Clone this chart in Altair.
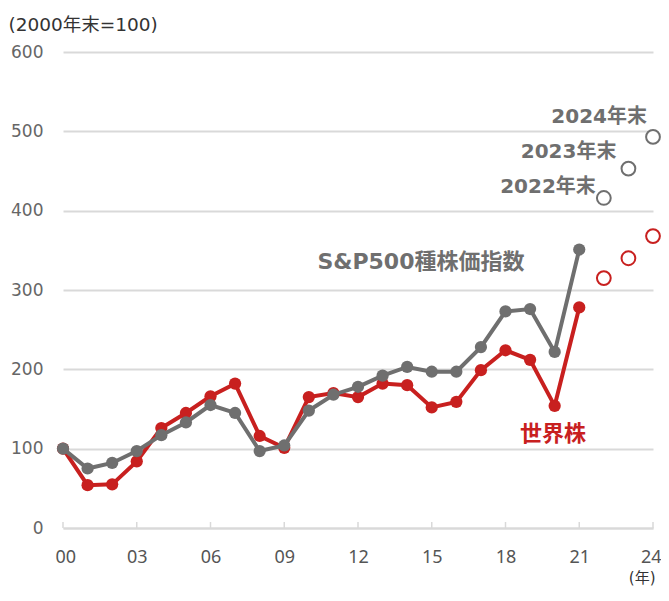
import altair as alt
import pandas as pd

# ---- data ----
years = list(range(2000, 2022))
world = [100, 54, 55, 84, 126, 145, 166, 182, 116, 101, 165, 170, 165, 182, 180,
         152, 159, 199, 224, 212, 154, 278]
sp500 = [100, 75, 82, 97, 117, 133, 155, 145, 97, 104, 148, 168, 178, 192, 203,
         197, 197, 228, 273, 276, 222, 351]
fc_years = [2022, 2023, 2024]
world_fc = [315, 340, 368]
sp500_fc = [416, 453, 493]
fc_labels = ["2022年末", "2023年末", "2024年末"]
x_ticks = list(range(2000, 2025, 3))
y_ticks = list(range(0, 700, 100))

RED = "#c8201f"
GRAY = "#6f6f6f"
GRID = "#d9d9d9"
CJK = "DejaVu Sans, Noto Sans CJK JP"

hist_world = pd.DataFrame({"year": years, "value": world})
hist_sp = pd.DataFrame({"year": years, "value": sp500})
fc_world = pd.DataFrame({"year": fc_years, "value": world_fc})
fc_sp = pd.DataFrame({"year": fc_years, "value": sp500_fc, "label": fc_labels})
ticks_df = pd.DataFrame({"year": x_ticks})

x_scale = alt.Scale(domain=[2000, 2024], nice=False, zero=False)
y_scale = alt.Scale(domain=[0, 600], nice=False)

x_axis = alt.Axis(
    values=x_ticks,
    labelExpr="substring(toString(datum.value), 2)",
    grid=False, ticks=False, labelFlush=True, labelFlushOffset=8, labelOverlap=False,
    domainColor=GRID, domainWidth=2,
    labelFont="Noto Sans", labelFontSize=18, labelColor="#555555", labelPadding=20,
    title="(年)", titleX=592, titleY=49, titleAlign="right", titleBaseline="middle",
    titleFont=CJK, titleFontSize=15, titleFontWeight="normal", titleColor="#333333",
)
y_axis = alt.Axis(
    values=y_ticks, grid=True, gridColor=GRID, gridWidth=2,
    domain=False, ticks=False,
    labelFont="DejaVu Sans", labelFontSize=17, labelColor="#666666", labelPadding=20,
    title="(2000年末=100)", titleAngle=0, titleAlign="left", titleBaseline="middle",
    titleX=-55, titleY=-28, titleFont=CJK, titleFontSize=18.5,
    titleFontWeight="normal", titleColor="#333333",
)

X = alt.X("year:Q", scale=x_scale, axis=x_axis)
Y = alt.Y("value:Q", scale=y_scale, axis=y_axis)

tick_marks = alt.Chart(ticks_df).mark_rule(color=GRID, strokeWidth=1.5).encode(
    x=X, y=alt.value(476), y2=alt.value(470)
)

world_line = alt.Chart(hist_world).mark_line(color=RED, strokeWidth=4).encode(x=X, y=Y)
world_pts = alt.Chart(hist_world).mark_circle(color=RED, size=150, opacity=1).encode(x=X, y=Y)
sp_line = alt.Chart(hist_sp).mark_line(color=GRAY, strokeWidth=4).encode(x=X, y=Y)
sp_pts = alt.Chart(hist_sp).mark_circle(color=GRAY, size=150, opacity=1).encode(x=X, y=Y)

world_fc_pts = alt.Chart(fc_world).mark_circle(
    fill="white", stroke=RED, strokeWidth=2, size=190, opacity=1
).encode(x=X, y=Y)
sp_fc_pts = alt.Chart(fc_sp).mark_circle(
    fill="white", stroke=GRAY, strokeWidth=2, size=190, opacity=1
).encode(x=X, y=Y)

offsets = {"2022年末": (-8, -11), "2023年末": (-12, -17), "2024年末": (-6, -20)}
label_layers = []
for lab, (dx, dy) in offsets.items():
    label_layers.append(
        alt.Chart(fc_sp).transform_filter(alt.datum.label == lab).mark_text(
            align="right", baseline="middle", dx=dx, dy=dy,
            font=CJK, fontSize=20, fontWeight="bold", color=GRAY
        ).encode(x=X, y=Y, text="label:N")
    )

sp_name = alt.Chart(pd.DataFrame({"t": ["S&P500種株価指数"]})).mark_text(
    align="center", baseline="middle", font=CJK, fontSize=22, fontWeight="bold", color=GRAY
).encode(x=alt.datum(2014.56), y=alt.datum(335), text="t:N")

world_name = alt.Chart(pd.DataFrame({"t": ["世界株"]})).mark_text(
    align="center", baseline="middle", font=CJK, fontSize=22, fontWeight="bold", color=RED
).encode(x=alt.datum(2019.93), y=alt.datum(118), text="t:N")

chart = alt.layer(
    tick_marks, world_line, world_pts, sp_line, sp_pts,
    world_fc_pts, sp_fc_pts, *label_layers, sp_name, world_name
).properties(
    width=590, height=476,
    autosize=alt.AutoSizeParams(type="none"),
    padding={"left": 55, "top": 44, "right": 8, "bottom": 60},
).configure_view(stroke=None)

chart.save("out.html", embed_options={"renderer": "svg", "actions": False})
